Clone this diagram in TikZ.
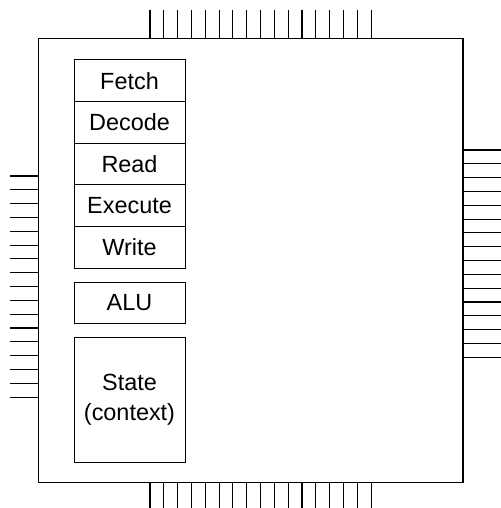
\documentclass[tikz,border=0pt]{standalone}
\usepackage{fontspec}
\setmainfont{Liberation Sans}
\usetikzlibrary{positioning}

\begin{document}
\begin{tikzpicture}[
    x=1bp, y=-1bp,
    node distance=0pt,
    stage/.style={
        rectangle,
        draw=black,
        line width=1bp,
        align=center,
        minimum width=111bp,
        minimum height=41.6bp,
        inner sep=0pt,
        outer sep=0pt,
        font=\fontsize{23.5}{30}\selectfont
    },
    pin/.style={line width=1.1bp}
]
\useasboundingbox (0,0) rectangle (501,508);

% Chip package outline
\node[draw=black, line width=1.2bp, minimum width=424.5bp, minimum height=444bp,
      inner sep=0pt, outer sep=0pt] (chip) at (250.75,260.5) {};

% Pipeline stages
\node[stage, anchor=north west] (fetch) at (74,60) {Fetch};
\node[stage, below=of fetch] (decode) {Decode};
\node[stage, below=of decode] (read) {Read};
\node[stage, below=of read] (execute) {Execute};
\node[stage, below=of execute] (write) {Write};

% ALU and state
\node[stage, below=14bp of write] (alu) {ALU};
\node[stage, below=14bp of alu, minimum height=125bp] (state) {State\\(context)};

% Pins
\foreach \i in {0,...,16} {
    \draw[pin] (150+13.82*\i, 10) -- (150+13.82*\i, 38.5);
    \draw[pin] (150+13.82*\i, 482.5) -- (150+13.82*\i, 508);
    \draw[pin] (10, 176+13.82*\i) -- (38.5, 176+13.82*\i);
}
\foreach \i in {0,...,15}
    \draw[pin] (463, 150+13.82*\i) -- (501, 150+13.82*\i);

\end{tikzpicture}
\end{document}
